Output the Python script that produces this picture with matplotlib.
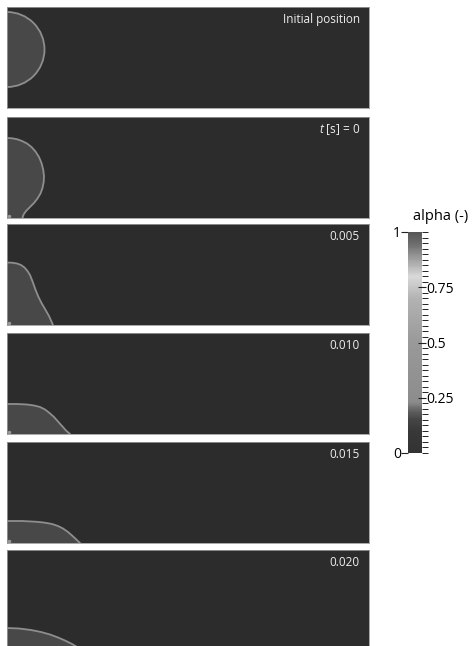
import numpy as np
import matplotlib
matplotlib.use("Agg")
import matplotlib.pyplot as plt
import matplotlib.patches as mpatches
from matplotlib.colors import LinearSegmentedColormap, Normalize
from matplotlib.cm import ScalarMappable

plt.rcParams['font.family'] = ['Open Sans', 'DejaVu Sans']
plt.rcParams['mathtext.fontset'] = 'custom'
plt.rcParams['mathtext.it'] = 'Open Sans:italic'
plt.rcParams['mathtext.rm'] = 'Open Sans'

# panel labels
labels = ["Initial position", "$t$ [s] = 0", "0.005", "0.010", "0.015", "0.020"]

# initial drop: half circle on the left wall (mm)
circle_y = 5.85
circle_r = 3.75

# interface profiles, x [mm], y [mm] from bottom wall
x_t0 = [0.0, 0.5, 1.0, 1.5, 2.0, 2.45, 2.85, 3.2, 3.45, 3.62, 3.7, 3.67,
        3.55, 3.35, 3.05, 2.7, 2.3, 1.95, 1.72, 1.6, 1.55]
y_t0 = [8.0, 7.97, 7.88, 7.7, 7.45, 7.1, 6.65, 6.1, 5.5, 4.85, 4.2, 3.6,
        3.0, 2.45, 1.95, 1.5, 1.1, 0.75, 0.45, 0.2, 0.0]

x_005 = [0.0, 0.5, 1.0, 1.4, 1.75, 2.05, 2.3, 2.5, 2.7, 2.9, 3.15, 3.45,
         3.8, 4.2, 4.6]
y_005 = [6.25, 6.23, 6.15, 6.0, 5.75, 5.4, 5.0, 4.5, 3.95, 3.4, 2.8, 2.2,
         1.6, 0.9, 0.0]

x_010 = [0.0, 1.0, 2.0, 2.7, 3.3, 3.8, 4.25, 4.7, 5.1, 5.5, 5.9, 6.3]
y_010 = [3.0, 3.0, 2.95, 2.85, 2.7, 2.45, 2.1, 1.7, 1.25, 0.8, 0.35, 0.0]

x_015 = [0.0, 1.5, 3.0, 3.8, 4.5, 5.1, 5.6, 6.1, 6.5, 6.9, 7.3]
y_015 = [2.2, 2.2, 2.12, 2.03, 1.9, 1.7, 1.45, 1.1, 0.75, 0.38, 0.0]

x_020 = [0.0, 1.2, 2.4, 3.4, 4.3, 5.1, 5.8, 6.5, 7.1, 7.6]
y_020 = [2.3, 2.25, 2.1, 1.9, 1.65, 1.35, 1.05, 0.7, 0.35, 0.0]

profiles = [None, (x_t0, y_t0), (x_005, y_005), (x_010, y_010),
            (x_015, y_015), (x_020, y_020)]

# grey scale of the alpha colour bar
cmap_vals = [0.0, 0.1, 0.15, 0.19, 0.23, 0.5, 0.7, 0.8, 0.88, 0.95, 1.0]
cmap_grey = [0.20, 0.22, 0.27, 0.38, 0.55, 0.60, 0.70, 0.85, 0.62, 0.42, 0.34]

cmap = LinearSegmentedColormap.from_list(
    "alpha_grey", [(v, (g, g, g)) for v, g in zip(cmap_vals, cmap_grey)])

bg = '#2c2c2c'
drop = '#484848'
line = '#8e8e8e'

W, H = 475, 646
fig = plt.figure(figsize=(W / 100, H / 100), dpi=100)
fig.patch.set_facecolor('white')

tops = [7, 117, 224, 333, 442, 550]
for k, top in enumerate(tops):
    ax = fig.add_axes([7 / W, 1 - (top + 101) / H, 362 / W, 101 / H])
    ax.set_facecolor(bg)
    ax.set_xlim(0, 36.2)
    ax.set_ylim(0, 10.1)
    ax.set_xticks([])
    ax.set_yticks([])
    for s in ax.spines.values():
        s.set_color('#9a9a9a')
        s.set_linewidth(0.6)

    if k == 0:
        ax.add_patch(mpatches.Circle((0, circle_y), circle_r, facecolor=drop,
                                     edgecolor=line, linewidth=1.3))
    else:
        px, py = profiles[k]
        ax.fill(list(px) + [0], list(py) + [0], color=drop, lw=0)
        ax.plot(px, py, color=line, lw=1.3, solid_capstyle='round',
                solid_joinstyle='round')
        ax.plot([0.15], [0.25], 'o', color='#9a9a9a', ms=2.5, mec='none')

    ax.text(0.975, 0.88, labels[k], transform=ax.transAxes, ha='right',
            va='center', color='#eeeeee', fontsize=8.5)

# colour bar
cax = fig.add_axes([408 / W, 1 - 453 / H, 14 / W, 221 / H])
sm = ScalarMappable(norm=Normalize(0, 1), cmap=cmap)
cb = fig.colorbar(sm, cax=cax)
cb.outline.set_visible(False)
cb.set_ticks([0.25, 0.5, 0.75])
cb.set_ticklabels(["0.25", "0.5", "0.75"])
cax.yaxis.set_minor_locator(matplotlib.ticker.MultipleLocator(0.025))
cax.tick_params(which='major', length=6, width=0.8, labelsize=10, pad=0,
                color='#222222', direction='inout')
cax.tick_params(which='minor', length=4, width=0.7, color='#222222',
                direction='out')

left = cax.secondary_yaxis('left')
left.set_ticks([0, 1])
left.set_yticklabels(["0", "1"])
left.tick_params(length=5, width=0.8, labelsize=10, pad=0, color='#222222')
for s in left.spines.values():
    s.set_visible(False)

fig.text(441 / W, 1 - 217 / H, "alpha (-)", fontsize=10.5, ha='center',
         va='center')

fig.savefig("out.png", dpi=100)
